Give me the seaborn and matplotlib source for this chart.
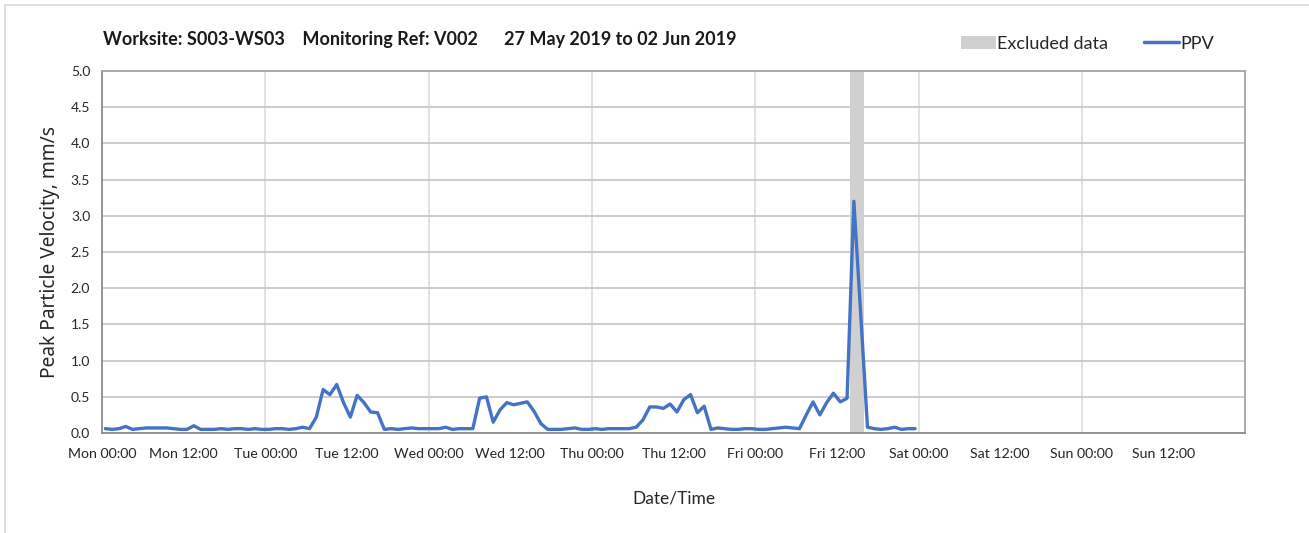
#!/usr/bin/env python3
"""
PPV monitoring chart: Worksite S003-WS03, Monitoring Ref V002
"""

import pandas as pd
import matplotlib.pyplot as plt
import matplotlib.dates as mdates
import seaborn as sns
from matplotlib.patches import Patch, Rectangle
from matplotlib.lines import Line2D

# hourly PPV readings (mm/s), first reading Mon 27 May 2019 00:30
ppv = [
    # Mon
    0.06, 0.05, 0.06, 0.09, 0.05, 0.06, 0.07, 0.07, 0.07, 0.07, 0.06, 0.05,
    0.05, 0.10, 0.05, 0.05, 0.05, 0.06, 0.05, 0.06, 0.06, 0.05, 0.06, 0.05,
    # Tue
    0.05, 0.06, 0.06, 0.05, 0.06, 0.08, 0.06, 0.22, 0.60, 0.53, 0.67, 0.42,
    0.22, 0.52, 0.42, 0.29, 0.28, 0.05, 0.06, 0.05, 0.06, 0.07, 0.06, 0.06,
    # Wed
    0.06, 0.06, 0.08, 0.05, 0.06, 0.06, 0.06, 0.48, 0.50, 0.15, 0.32, 0.42,
    0.39, 0.41, 0.43, 0.30, 0.13, 0.05, 0.05, 0.05, 0.06, 0.07, 0.05, 0.05,
    # Thu
    0.06, 0.05, 0.06, 0.06, 0.06, 0.06, 0.08, 0.18, 0.36, 0.36, 0.34, 0.40,
    0.29, 0.46, 0.53, 0.28, 0.37, 0.05, 0.07, 0.06, 0.05, 0.05, 0.06, 0.06,
    # Fri
    0.05, 0.05, 0.06, 0.07, 0.08, 0.07, 0.06, 0.25, 0.43, 0.25, 0.42, 0.55,
    0.43, 0.48, 3.20, 1.65, 0.08, 0.06, 0.05, 0.06, 0.08, 0.05, 0.06, 0.06,
]
start_time = '2019-05-27 00:30'
excluded_start = '2019-05-31 14:00'
excluded_end = '2019-05-31 16:00'

x_start = pd.Timestamp('2019-05-27 00:00')
x_end = pd.Timestamp('2019-06-03 00:00')

title = 'Worksite: S003-WS03    Monitoring Ref: V002      27 May 2019 to 02 Jun 2019'

df = pd.DataFrame({
    'time': pd.date_range(start_time, periods=len(ppv), freq='h'),
    'ppv': ppv,
})

sns.set_style('white')
plt.rcParams['font.family'] = ['Lato', 'DejaVu Sans']

fig = plt.figure(figsize=(13.09, 5.33), dpi=100)
fig.patches.append(Rectangle((0.004, -0.01), 1.0, 1.0, transform=fig.transFigure,
                             fill=False, edgecolor='#d9d9d9', linewidth=1.2))
ax = fig.add_axes([0.0779, 0.1876, 0.8733, 0.6792])

# excluded data band
ax.axvspan(pd.Timestamp(excluded_start), pd.Timestamp(excluded_end),
           color='#d0d0d0', lw=0, zorder=1)

sns.lineplot(data=df, x='time', y='ppv', ax=ax, color='#4472C4',
             linewidth=2.4, zorder=3, legend=False)

ax.set_xlim(x_start, x_end)
ax.set_ylim(0, 5)
ax.set_yticks([i * 0.5 for i in range(11)])
ax.yaxis.set_major_formatter(plt.FormatStrFormatter('%.1f'))


def fmt_time(v, pos):
    t = mdates.num2date(v).replace(tzinfo=None)
    if t >= x_end.to_pydatetime():
        return ''
    return t.strftime('%a %H:%M')


# ticks every 12 h, gridlines every day
ax.xaxis.set_major_locator(mdates.HourLocator(byhour=[0, 12]))
ax.xaxis.set_major_formatter(plt.FuncFormatter(fmt_time))
for d in pd.date_range(x_start, x_end, freq='D')[1:-1]:
    ax.axvline(d, color='#d9d9d9', lw=1.1, zorder=0)
ax.grid(axis='y', color='#c8c8c8', lw=1.3, zorder=0)
ax.grid(axis='x', visible=False)

for s in ax.spines.values():
    s.set_color('#a6a6a6')
    s.set_linewidth(1.3)
ax.spines['left'].set_color('#8c8c8c')
ax.spines['bottom'].set_color('#8c8c8c')

ax.tick_params(axis='both', direction='out', length=5, width=1, color='#8c8c8c',
               labelsize=10, labelcolor='#262626')
ax.tick_params(axis='x', labelsize=10.2, pad=6)

ax.set_xlabel('Date/Time', fontsize=12.5, color='#262626', labelpad=22)
ax.set_ylabel('Peak Particle Velocity, mm/s', fontsize=13.8, color='#262626',
              fontfamily='Noto Sans', labelpad=8)

fig.text(0.079, 0.925, title, fontsize=13, fontweight='bold', color='#1a1a1a',
         ha='left', va='center')

handles = [Patch(facecolor='#d0d0d0', edgecolor='none', label='Excluded data'),
           Line2D([], [], color='#4472C4', lw=2.5, label='PPV')]
fig.legend(handles=handles, loc='center right', bbox_to_anchor=(0.94, 0.918),
           ncol=2, frameon=False, fontsize=13, handlelength=1.9,
           handletextpad=0.1, columnspacing=2.0)

fig.savefig('out.png', dpi=100)
plt.close(fig)
